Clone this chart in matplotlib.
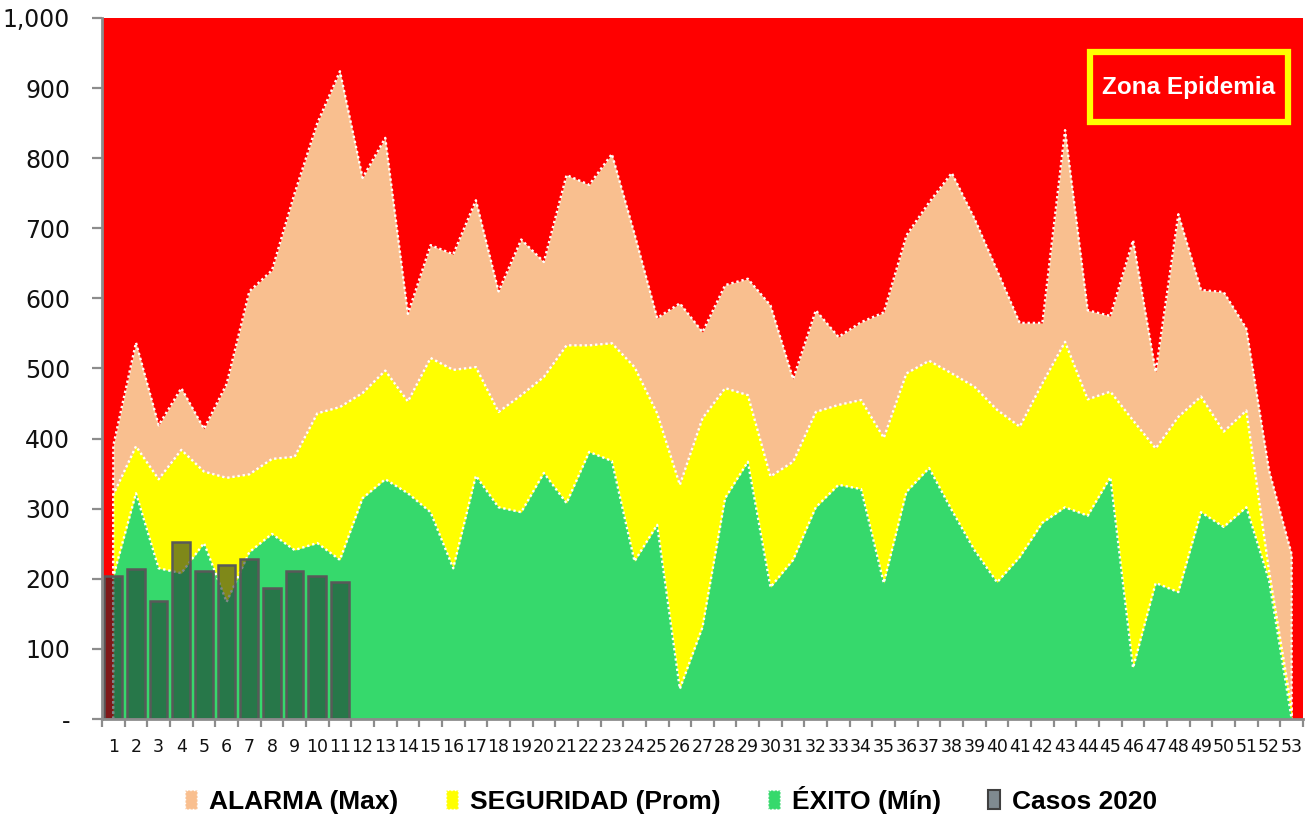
import matplotlib
matplotlib.use("Agg")
import matplotlib.pyplot as plt
from matplotlib.patches import Patch, Rectangle
import numpy as np

weeks = list(range(1, 54))

alarma_max = [390, 537, 419, 472, 414, 478, 610, 640, 750, 850, 924, 772, 829, 578, 676,
              663, 740, 610, 684, 652, 776, 762, 806, 692, 572, 593, 552, 619, 628, 590,
              485, 583, 545, 566, 580, 690, 737, 779, 714, 640, 565, 565, 840, 583, 575,
              683, 495, 720, 612, 609, 557, 355, 235]

seguridad_prom = [320, 389, 342, 384, 353, 344, 349, 371, 374, 436, 445, 465, 497, 453, 515,
                  498, 502, 438, 462, 488, 533, 533, 536, 502, 436, 334, 429, 472, 462, 346,
                  367, 438, 448, 455, 401, 493, 511, 493, 474, 441, 417, 479, 538, 456, 467,
                  426, 386, 431, 460, 410, 440, 212, 15]

exito_min = [203, 322, 215, 208, 251, 167, 238, 264, 241, 251, 227, 315, 342, 322, 295,
             215, 347, 302, 295, 351, 308, 381, 368, 225, 277, 43, 131, 315, 367, 188,
             227, 302, 334, 328, 194, 324, 358, 298, 241, 195, 231, 280, 302, 290, 345,
             73, 194, 181, 295, 274, 302, 198, 0]

casos_weeks = list(range(1, 12))
casos_2020 = [204, 214, 168, 252, 211, 220, 228, 187, 211, 204, 195]

y_ticks = [0, 100, 200, 300, 400, 500, 600, 700, 800, 900, 1000]
y_tick_labels = ['-', '100', '200', '300', '400', '500', '600', '700', '800', '900', '1,000']

series_labels = ['ALARMA (Max)', 'SEGURIDAD (Prom)', 'ÉXITO (Mín)', 'Casos 2020']
zone_label = 'Zona Epidemia'

RED = '#FF0000'
PEACH = '#F9BF8F'
YELLOW = '#FFFF00'
GREEN = '#36D96C'
BAR_FACE = (0.11, 0.17, 0.18, 0.56)
BAR_EDGE = '#595959'
AXIS_GRAY = '#8C8C8C'

fig = plt.figure(figsize=(13.06, 8.22), dpi=100)
fig.patch.set_facecolor('white')
ax = fig.add_axes([102/1306, 103/822, 1201/1306, 701/822])
ax.set_facecolor(RED)

x = np.array(weeks, dtype=float)
for vals, col, z in [(alarma_max, PEACH, 2), (seguridad_prom, YELLOW, 3), (exito_min, GREEN, 4)]:
    v = np.array(vals, dtype=float)
    ax.fill_between(x, 0, v, color=col, linewidth=0, zorder=z)
    ox = np.concatenate([[x[0]], x, [x[-1]]])
    oy = np.concatenate([[0], v, [0]])
    ax.plot(ox, oy, color='white', linestyle=(0, (1, 1.2)), linewidth=1.7, zorder=z + 0.5)

ax.bar(casos_weeks, casos_2020, width=0.78, facecolor=BAR_FACE, edgecolor=BAR_EDGE,
       linewidth=1.8, zorder=6)

ax.set_xlim(0.5, 53.5)
ax.set_ylim(0, 1000)

ax.set_yticks(y_ticks)
ax.set_yticklabels(y_tick_labels, fontsize=17, family='DejaVu Sans', color='#111111')
ax.set_xticks(weeks)
ax.set_xticklabels([str(w) for w in weeks], fontsize=12.5, family='DejaVu Sans', color='#111111')
ax.set_xticks(np.arange(0.5, 54.0, 1.0), minor=True)
ax.tick_params(axis='x', which='major', length=0, pad=14)
ax.tick_params(axis='x', which='minor', length=6, width=1.6, color=AXIS_GRAY)
ax.tick_params(axis='y', which='major', length=7, width=1.6, color=AXIS_GRAY, pad=16)

for s in ['top', 'right']:
    ax.spines[s].set_visible(False)
for s in ['left', 'bottom']:
    ax.spines[s].set_color(AXIS_GRAY)
    ax.spines[s].set_linewidth(2)
    ax.spines[s].set_zorder(10)

# Zona Epidemia box
ax.add_patch(Rectangle((0.8225, 0.852), 0.165, 0.099, transform=ax.transAxes,
                       facecolor=RED, edgecolor=YELLOW, linewidth=4.5, zorder=12))
ax.text(0.905, 0.9015, zone_label, transform=ax.transAxes, ha='center', va='center',
        color='white', fontsize=17.5, fontweight='bold', family='Liberation Sans', zorder=13)

handles = [
    Patch(facecolor=PEACH, edgecolor='white', linestyle=':', linewidth=1.0),
    Patch(facecolor=YELLOW, edgecolor='white', linestyle=':', linewidth=1.0),
    Patch(facecolor=GREEN, edgecolor='white', linestyle=':', linewidth=1.0),
    Patch(facecolor='#7F8A90', edgecolor='#404040', linewidth=1.5),
]
leg = fig.legend(handles, series_labels, loc='center', bbox_to_anchor=(0.514, 0.027),
                 ncol=4, frameon=False, handlelength=0.45, handleheight=0.75,
                 handletextpad=0.45, columnspacing=1.8,
                 prop={'family': 'Liberation Sans', 'weight': 'bold', 'size': 19})

fig.savefig('out.png', dpi=100, facecolor='white')
